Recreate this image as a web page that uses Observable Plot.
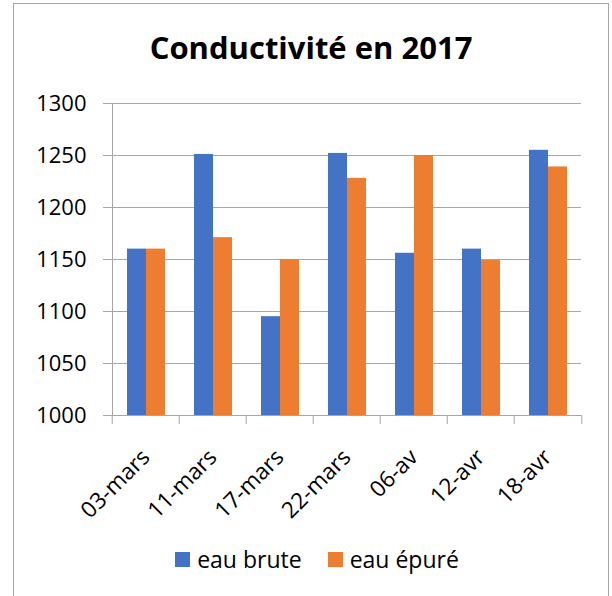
<!DOCTYPE html>
<html>
<head>
<meta charset="utf-8">
<script src="https://cdn.jsdelivr.net/npm/d3@7"></script>
<script src="https://cdn.jsdelivr.net/npm/@observablehq/plot@0.6"></script>
<style>
  html, body { margin: 0; padding: 0; background: #fff; }
  #wrap { position: relative; width: 612px; height: 596px; overflow: hidden; font-family: "Open Sans", sans-serif; }
  #border { position: absolute; left: 13px; top: 3px; width: 596px; height: 600px; border: 1px solid #a6a6a6; box-sizing: border-box; }
  #title { position: absolute; left: 13px; width: 596px; top: 32px; text-align: center; font-weight: bold; font-size: 31px; line-height: 1; color: #000; }
  #chart { position: absolute; left: 0; top: 0; }
  #legend { position: absolute; left: 0; width: 612px; top: 543px; display: flex; justify-content: center; align-items: center; font-size: 23px; color: #000; padding-left: 22px; box-sizing: border-box; }
  .item { display: flex; align-items: center; margin: 0 13px; }
  .sw { width: 15px; height: 15px; margin-right: 7px; }
</style>
</head>
<body>
<div id="wrap">
  <div id="border"></div>
  <div id="title">Conductivité en 2017</div>
  <div id="chart"></div>
  <div id="legend"></div>
</div>
<script>
const categories = ["03-mars", "11-mars", "17-mars", "22-mars", "06-av", "12-avr", "18-avr"];
const series = ["eau brute", "eau épuré"];
const eauBrute = [1160, 1251, 1095, 1252, 1156, 1160, 1255];
const eauEpure = [1160, 1171, 1150, 1228, 1250, 1149, 1239];
const colors = ["#4472C4", "#ED7D31"];
const yTicks = [1000, 1050, 1100, 1150, 1200, 1250, 1300];

const data = [];
categories.forEach((c, i) => {
  data.push({date: c, serie: series[0], value: eauBrute[i]});
  data.push({date: c, serie: series[1], value: eauEpure[i]});
});

const W = 612, H = 540, mL = 110, mR = 29, mT = 103, mB = 125;
const step = (W - mL - mR) / categories.length;
const grid = "#a6a6a6";

const plot = Plot.plot({
  width: W, height: H,
  marginLeft: mL, marginRight: mR, marginTop: mT, marginBottom: mB,
  style: {fontFamily: "Open Sans, sans-serif", fontSize: "22px", color: "#000", background: "transparent"},
  fx: {domain: categories, padding: 0, label: null},
  x: {domain: series, paddingInner: 0, paddingOuter: 0.75, axis: null},
  y: {domain: [yTicks[0], yTicks[yTicks.length - 1]], ticks: yTicks, label: null},
  color: {domain: series, range: colors},
  marks: [
    Plot.gridY(yTicks, {stroke: grid, strokeOpacity: 1, strokeWidth: 1}),
    Plot.barY(data, {fx: "date", x: "serie", y1: () => yTicks[0], y2: "value", fill: "serie", inset: 0}),
    Plot.ruleY([yTicks[0]], {stroke: grid, strokeWidth: 1}),
    Plot.frame({anchor: "left", facetAnchor: "left", stroke: grid}),
    Plot.axisY(yTicks, {tickSize: 9, tickPadding: 17, stroke: grid, fontSize: 22, label: null, tickFormat: d3.format("d")}),
    Plot.axisFx({anchor: "bottom", tickSize: 9, tickFormat: () => "", stroke: grid, dx: -step / 2, label: null}),
    Plot.axisFx({anchor: "bottom", ticks: [categories[categories.length - 1]], tickSize: 9, tickFormat: () => "", stroke: grid, dx: step / 2, label: null}),
    Plot.axisFx({anchor: "bottom", tickSize: 0, tickRotate: -45, tickPadding: 38, dx: 0, fontSize: 22.5, label: null})
  ]
});
document.getElementById("chart").appendChild(plot);

const legend = document.getElementById("legend");
series.forEach((s, i) => {
  const it = document.createElement("div");
  it.className = "item";
  const sw = document.createElement("span");
  sw.className = "sw";
  sw.style.background = colors[i];
  const t = document.createElement("span");
  t.textContent = s;
  it.appendChild(sw); it.appendChild(t);
  legend.appendChild(it);
});
</script>
</body>
</html>
